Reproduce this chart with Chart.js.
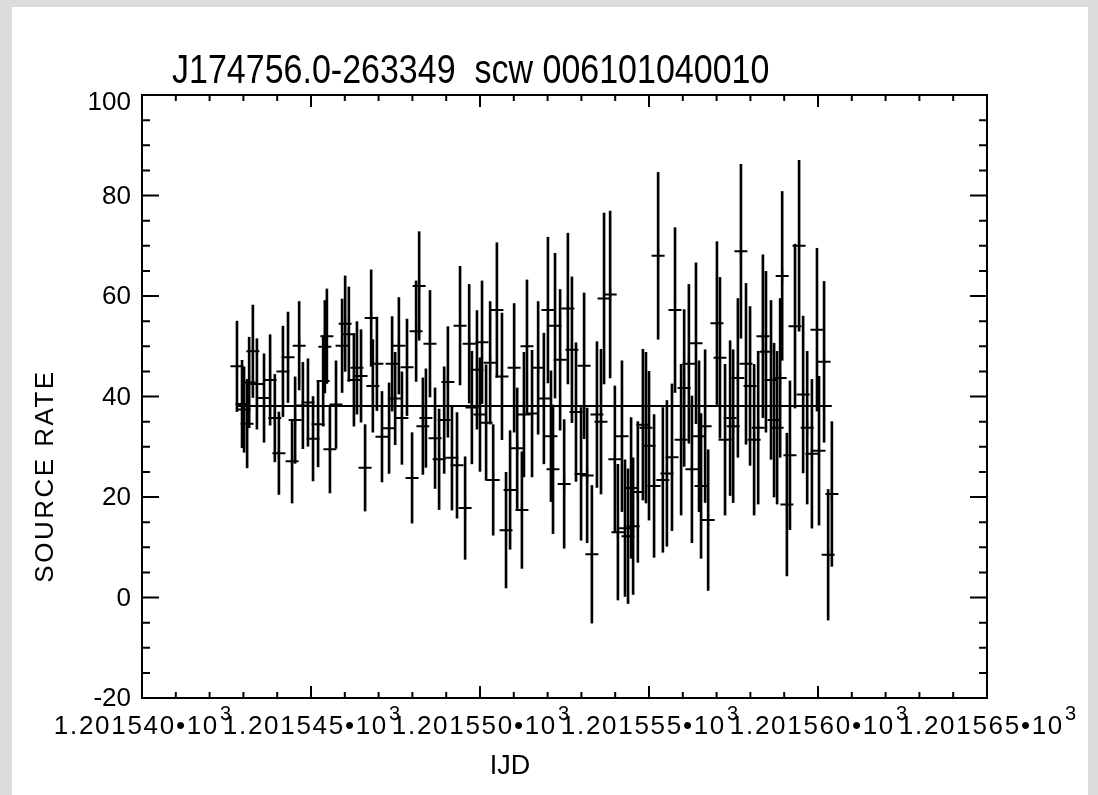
<!DOCTYPE html>
<html>
<head>
<meta charset="utf-8">
<title>J174756.0-263349 light curve</title>
<script src="https://cdn.jsdelivr.net/npm/chart.js@4.4.0/dist/chart.umd.min.js"></script>
<style>
  html, body { margin: 0; padding: 0; background: #dcdcdc; }
  #panel { position: absolute; left: 12px; top: 7px; width: 1076px; height: 788px; background: #fff; }
  canvas { display: block; }
</style>
</head>
<body>
<div id="panel"><canvas id="lc" width="1076" height="788"></canvas></div>
<script>
// IJD of each bin
const times = [
  1201.54281, 1201.54296, 1201.54302, 1201.54311, 1201.54317, 1201.54328, 1201.54340, 1201.54361,
  1201.54379, 1201.54393, 1201.54405, 1201.54417, 1201.54432, 1201.54444, 1201.54453, 1201.54465,
  1201.54476, 1201.54491, 1201.54506, 1201.54521, 1201.54536, 1201.54541, 1201.54547, 1201.54556,
  1201.54574, 1201.54592, 1201.54601, 1201.54612, 1201.54627, 1201.54636, 1201.54648, 1201.54660,
  1201.54678, 1201.54683, 1201.54695, 1201.54710, 1201.54731, 1201.54740, 1201.54749, 1201.54760,
  1201.54769, 1201.54784, 1201.54799, 1201.54811, 1201.54820, 1201.54831, 1201.54840, 1201.54852,
  1201.54867, 1201.54879, 1201.54894, 1201.54905, 1201.54917, 1201.54932, 1201.54941, 1201.54956,
  1201.54968, 1201.54976, 1201.54991, 1201.55000, 1201.55006, 1201.55018, 1201.55030, 1201.55039,
  1201.55050, 1201.55065, 1201.55077, 1201.55089, 1201.55101, 1201.55110, 1201.55124, 1201.55130,
  1201.55139, 1201.55154, 1201.55172, 1201.55189, 1201.55201, 1201.55210, 1201.55216, 1201.55222,
  1201.55237, 1201.55249, 1201.55260, 1201.55272, 1201.55284, 1201.55299, 1201.55308, 1201.55317,
  1201.55331, 1201.55346, 1201.55358, 1201.55367, 1201.55385, 1201.55399, 1201.55408, 1201.55420,
  1201.55429, 1201.55438, 1201.55447, 1201.55453, 1201.55467, 1201.55482, 1201.55491, 1201.55500,
  1201.55515, 1201.55527, 1201.55541, 1201.55553, 1201.55568, 1201.55577, 1201.55595, 1201.55604,
  1201.55618, 1201.55627, 1201.55639, 1201.55648, 1201.55654, 1201.55666, 1201.55675, 1201.55701,
  1201.55710, 1201.55725, 1201.55740, 1201.55749, 1201.55763, 1201.55772, 1201.55787, 1201.55799,
  1201.55811, 1201.55823, 1201.55837, 1201.55846, 1201.55861, 1201.55870, 1201.55879, 1201.55888,
  1201.55894, 1201.55908, 1201.55917, 1201.55932, 1201.55944, 1201.55956, 1201.55968, 1201.55982,
  1201.55997, 1201.56003, 1201.56018, 1201.56030, 1201.56041
];

const rates = [
  46.0, 38.5, 37.4, 34.6, 42.8, 49.0, 42.5, 39.7,
  43.3, 35.7, 28.7, 45.0, 47.8, 27.1, 35.3, 50.1,
  38.2, 38.8, 31.6, 34.5, 43.1, 49.9, 52.0, 29.5,
  38.4, 50.1, 54.5, 52.4, 43.3, 45.7, 44.1, 25.8,
  55.6, 42.1, 46.5, 32.0, 33.7, 46.5, 39.6, 50.1,
  35.7, 45.8, 23.8, 53.0, 62.0, 34.1, 35.7, 50.5,
  31.7, 27.5, 35.3, 42.9, 27.8, 26.3, 54.1, 17.8,
  50.5, 37.8, 45.3, 36.4, 50.8, 34.8, 46.7, 23.4,
  57.2, 44.0, 13.4, 21.4, 45.7, 29.7, 17.4, 36.4,
  50.0, 36.6, 45.7, 39.6, 57.2, 32.1, 25.5, 54.1,
  47.3, 22.6, 57.5, 49.3, 36.9, 24.6, 46.1, 24.3,
  8.6, 36.4, 35.0, 59.5, 60.3, 27.5, 13.0, 32.1,
  13.8, 12.2, 21.8, 14.2, 21.0, 34.4, 33.8, 30.2,
  22.2, 68.0, 23.4, 24.7, 27.9, 57.2, 31.4, 41.7,
  46.5, 25.5, 50.6, 32.1, 22.2, 34.1, 15.4, 54.6,
  47.7, 31.4, 35.7, 34.1, 43.7, 68.9, 46.5, 42.1,
  31.4, 33.8, 52.0, 48.9, 43.3, 35.3, 33.8, 43.7,
  64.0, 18.5, 28.3, 54.0, 70.0, 40.4, 33.8, 28.6,
  53.3, 29.2, 46.9, 8.5, 20.6
];

const errors = [
  9.0, 8.7, 8.5, 8.8, 9.0, 9.2, 9.0, 8.8,
  9.0, 8.7, 8.2, 9.0, 9.0, 8.3, 8.6, 8.8,
  8.6, 8.7, 8.4, 8.5, 9.0, 9.2, 9.4, 8.7,
  8.7, 9.3, 9.5, 9.4, 9.2, 9.2, 9.2, 8.6,
  9.6, 9.2, 9.3, 9.0, 9.0, 9.4, 9.2, 9.6,
  9.2, 9.6, 9.0, 10.0, 10.8, 9.6, 9.8, 10.6,
  10.0, 10.0, 10.6, 11.0, 10.4, 10.5, 11.8, 10.2,
  11.8, 11.2, 11.8, 11.3, 12.2, 11.5, 12.2, 11.0,
  13.4, 12.6, 11.5, 11.8, 12.8, 12.0, 11.6, 12.4,
  13.2, 12.6, 13.2, 13.0, 14.5, 13.0, 12.8, 14.4,
  14.0, 12.8, 15.0, 14.5, 13.8, 13.2, 14.5, 13.4,
  13.7, 14.5, 14.4, 17.0, 16.6, 14.6, 13.5, 15.0,
  13.6, 13.4, 14.0, 13.6, 14.0, 15.0, 15.0, 14.8,
  14.2, 16.6, 14.4, 14.5, 14.6, 16.4, 15.0, 15.6,
  15.8, 14.6, 16.0, 15.0, 14.4, 15.2, 14.0, 16.2,
  16.0, 15.0, 15.4, 15.2, 15.8, 17.3, 16.0, 15.8,
  15.0, 15.2, 16.2, 16.0, 15.8, 15.3, 15.2, 15.8,
  16.8, 14.2, 14.8, 16.3, 17.0, 15.6, 15.2, 14.8,
  16.2, 14.8, 16.0, 13.0, 14.4
];

const meanRate = 38.1;

const xTickValues = [1201.540, 1201.545, 1201.550, 1201.555, 1201.560, 1201.565];
const xTickLabels = ['1.201540', '1.201545', '1.201550', '1.201555', '1.201560', '1.201565'];
const yTickValues = [-20, 0, 20, 40, 60, 80, 100];
const yTickLabels = ['-20', '0', '20', '40', '60', '80', '100'];

const titleText = 'J174756.0-263349  scw 006101040010';
const xTitle = 'IJD';
const yTitle = 'SOURCE RATE';

const FONT = "'Liberation Sans', Arial, sans-serif";
const xMin = xTickValues[0];
const xMax = xTickValues[xTickValues.length - 1];

// IDL style box, inward ticks and all the annotation text
const idlFrame = {
  id: 'idlFrame',
  afterDraw(chart) {
    const { ctx, chartArea: a, scales: { x, y } } = chart;
    ctx.save();
    ctx.strokeStyle = '#000';
    ctx.lineWidth = 2;
    ctx.strokeRect(a.left, a.top, a.right - a.left, a.bottom - a.top);

    ctx.beginPath();
    for (let k = 0; k <= 25; k++) {
      const px = x.getPixelForValue(xMin + k * 0.001);
      const len = k % 5 === 0 ? 12 : 6;
      ctx.moveTo(px, a.bottom);
      ctx.lineTo(px, a.bottom - len);
      ctx.moveTo(px, a.top);
      ctx.lineTo(px, a.top + len);
    }
    for (let k = 0; k <= 24; k++) {
      const py = y.getPixelForValue(-20 + k * 5);
      const len = k % 4 === 0 ? 17 : 8;
      ctx.moveTo(a.left, py);
      ctx.lineTo(a.left + len, py);
      ctx.moveTo(a.right, py);
      ctx.lineTo(a.right - len, py);
    }
    ctx.stroke();

    ctx.fillStyle = '#000';

    // y tick labels (IDL pushes the top one down inside the box)
    ctx.textAlign = 'right';
    ctx.textBaseline = 'middle';
    ctx.font = '26px ' + FONT;
    yTickValues.forEach((v, i) => {
      const py = y.getPixelForValue(v) + (v === 100 ? 8 : 1);
      ctx.fillText(yTickLabels[i], a.left - 11, py);
    });

    // x tick labels, "1.201540•10" with a raised 3
    ctx.textAlign = 'left';
    ctx.textBaseline = 'alphabetic';
    xTickValues.forEach((v, i) => {
      const px = x.getPixelForValue(v);
      ctx.font = '26px ' + FONT;
      ctx.letterSpacing = '1.7px';
      const main = xTickLabels[i] + '\u202210';
      const mw = ctx.measureText(main).width;
      ctx.font = '20px ' + FONT;
      ctx.letterSpacing = '0px';
      const sw = ctx.measureText('3').width;
      const x0 = px - (mw + sw) / 2;
      ctx.font = '26px ' + FONT;
      ctx.letterSpacing = '1.7px';
      ctx.fillText(main, x0, 727);
      ctx.font = '20px ' + FONT;
      ctx.letterSpacing = '0px';
      ctx.fillText('3', x0 + mw + 1, 713);
    });

    ctx.letterSpacing = '0px';
    ctx.save();
    ctx.translate(160, 76);
    ctx.scale(0.85, 1);
    ctx.font = '40px ' + FONT;
    ctx.fillText(titleText, 0, 0);
    ctx.restore();

    ctx.textAlign = 'center';
    ctx.font = '27px ' + FONT;
    ctx.fillText(xTitle, 498, 767);

    ctx.translate(34, 469);
    ctx.rotate(-Math.PI / 2);
    ctx.textBaseline = 'middle';
    ctx.font = '26px ' + FONT;
    ctx.letterSpacing = '2.5px';
    ctx.fillText(yTitle, 0, 0);
    ctx.restore();
  }
};

const errorBars = times.map((t, i) => ({ x: t, y: [rates[i] - errors[i], rates[i] + errors[i]] }));
const points = times.map((t, i) => ({ x: t, y: rates[i] }));
const meanLine = [
  { x: times[0], y: meanRate },
  { x: times[times.length - 1], y: meanRate }
];

new Chart(document.getElementById('lc'), {
  type: 'bar',
  data: {
    datasets: [
      {
        type: 'bar',
        data: errorBars,
        backgroundColor: '#000',
        borderWidth: 0,
        barThickness: 2
      },
      {
        type: 'line',
        data: points,
        showLine: false,
        pointStyle: 'cross',
        pointRadius: 6.5,
        pointBorderWidth: 2,
        pointBorderColor: '#000'
      },
      {
        type: 'line',
        data: meanLine,
        borderColor: '#000',
        borderWidth: 2,
        pointRadius: 0,
        fill: false
      }
    ]
  },
  options: {
    responsive: false,
    animation: false,
    events: [],
    layout: { padding: { top: 88, right: 101, left: 0, bottom: 0 } },
    plugins: {
      legend: { display: false },
      tooltip: { enabled: false },
      title: { display: false }
    },
    scales: {
      x: {
        type: 'linear',
        min: xMin,
        max: xMax,
        offset: false,
        grid: { display: false },
        border: { display: false },
        ticks: { display: false },
        afterFit: (s) => { s.height = 97; }
      },
      y: {
        type: 'linear',
        min: -20,
        max: 100,
        grid: { display: false },
        border: { display: false },
        afterBuildTicks: (s) => { s.ticks = yTickValues.map(v => ({ value: v })); },
        ticks: { display: false },
        afterFit: (s) => { s.width = 130; }
      }
    }
  },
  plugins: [idlFrame]
});
</script>
</body>
</html>
